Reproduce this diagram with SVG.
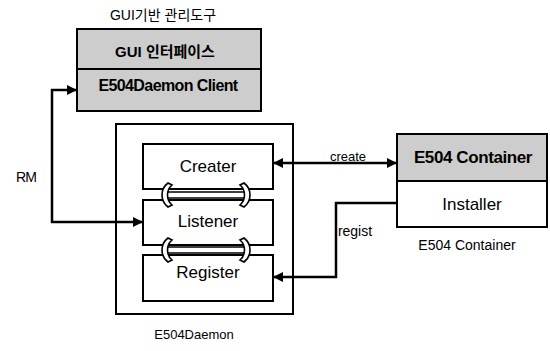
<svg xmlns="http://www.w3.org/2000/svg" width="550" height="351" viewBox="0 0 550 351">
  <style>
    .box { fill: #ffffff; stroke: #000; stroke-width: 2; }
    .shade { fill: #cdcdcd; stroke: #000; stroke-width: 2; }
    .lbl { font-family: "Liberation Sans", Arial, sans-serif; fill: #000; }
    .kr { font-family: "Liberation Sans", "Noto Sans CJK KR", sans-serif; fill: #000; }
    .wire { fill: none; stroke: #000; stroke-width: 2.5; }
    .cap { fill: #fff; stroke: #000; stroke-width: 1.6; }
  </style>
  <defs>
    <marker id="arrow" viewBox="0 0 10 10" refX="10" refY="5" markerWidth="4" markerHeight="4" orient="auto-start-reverse" markerUnits="strokeWidth">
      <path d="M0,0 L10,5 L0,10 z" fill="#000"/>
    </marker>
    <!-- pipe joint between two stacked modules -->
    <g id="joint">
      <path class="cap" d="M0,3 L84,3 L84,9 L0,9 z"/>
      <path class="cap" d="M4,-6 C-4,0 -4,12 4,18 L8,16 C2,11 2,1 8,-4 z"/>
      <path class="cap" d="M80,-6 C88,0 88,12 80,18 L76,16 C82,11 82,1 76,-4 z"/>
    </g>
  </defs>

  <!-- management tool -->
  <g id="gui-tool">
    <text class="kr" x="163" y="20" font-size="14" text-anchor="middle">GUI기반 관리도구</text>
    <rect class="shade" x="77" y="29" width="184" height="40"/>
    <rect class="shade" x="77" y="69" width="184" height="42"/>
    <text class="kr" x="165" y="57" font-size="15" font-weight="bold" text-anchor="middle">GUI 인터페이스</text>
    <text class="lbl" x="168" y="91" font-size="16" font-weight="bold" text-anchor="middle" letter-spacing="-0.6">E504Daemon Client</text>
  </g>

  <!-- daemon -->
  <g id="daemon">
    <rect class="box" x="116" y="124" width="177" height="190"/>
    <text class="lbl" x="194" y="339" font-size="13" text-anchor="middle">E504Daemon</text>
  </g>
  <g id="creater">
    <rect class="box" x="143" y="144" width="130" height="45"/>
    <text class="lbl" x="208" y="172" font-size="17" text-anchor="middle">Creater</text>
  </g>
  <g id="listener">
    <rect class="box" x="143" y="200" width="130" height="45"/>
    <text class="lbl" x="208" y="227" font-size="17" text-anchor="middle">Listener</text>
  </g>
  <g id="register">
    <rect class="box" x="143" y="255" width="130" height="46"/>
    <text class="lbl" x="208" y="278" font-size="17" text-anchor="middle">Register</text>
  </g>
  <g id="joints">
    <use href="#joint" x="164" y="189"/>
    <use href="#joint" x="164" y="244"/>
  </g>

  <!-- container -->
  <g id="container">
    <rect class="shade" x="397" y="134" width="150" height="47"/>
    <rect class="box" x="397" y="181" width="150" height="46"/>
    <text class="lbl" x="473" y="163" font-size="17" font-weight="bold" text-anchor="middle" letter-spacing="-0.4">E504 Container</text>
    <text class="lbl" x="472" y="210" font-size="17" text-anchor="middle">Installer</text>
    <text class="lbl" x="467" y="250" font-size="14" text-anchor="middle">E504 Container</text>
  </g>

  <!-- connectors -->
  <g id="connectors">
    <path class="wire" d="M143,222 L52,222 L52,90 L77,90" marker-start="url(#arrow)" marker-end="url(#arrow)"/>
    <path class="wire" d="M273,163 L397,163" marker-start="url(#arrow)" marker-end="url(#arrow)"/>
    <path class="wire" d="M397,203 L336,203 L336,277 L273,277" marker-end="url(#arrow)"/>
    <text class="lbl" x="26" y="182" font-size="14" text-anchor="middle" letter-spacing="-1">RM</text>
    <text class="lbl" x="348" y="161" font-size="13" text-anchor="middle">create</text>
    <text class="lbl" x="355" y="236" font-size="14" text-anchor="middle">regist</text>
  </g>
</svg>
